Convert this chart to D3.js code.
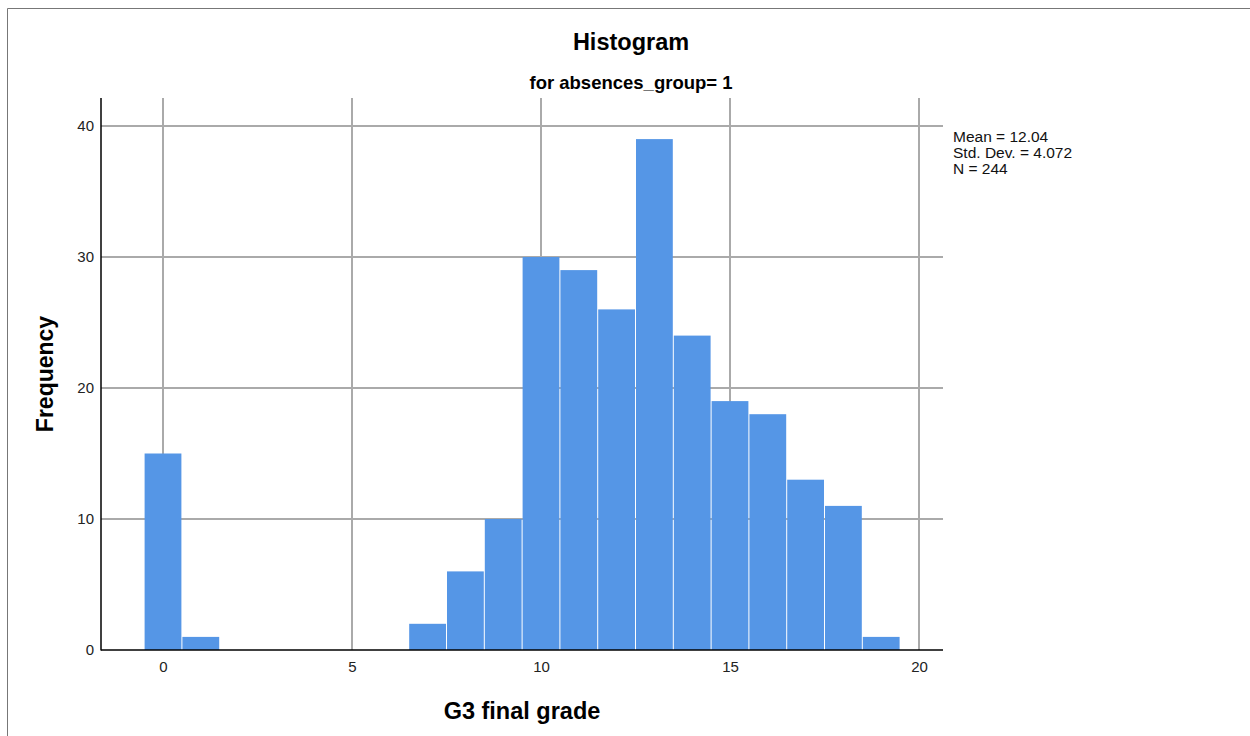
<!DOCTYPE html>
<html><head><meta charset="utf-8">
<script src="https://cdn.jsdelivr.net/npm/d3@7"></script>
<style>body{margin:0;background:#fff;font-family:"Liberation Sans",Arial,sans-serif;}</style>
</head><body>
<svg id="c" width="1250" height="736"></svg>
<script>
const grades = [0,1,7,8,9,10,11,12,13,14,15,16,17,18,19];
const freqs  = [15,1,2,6,10,30,29,26,39,24,19,18,13,11,1];
const xTicks = [0,5,10,15,20];
const yTicks = [0,10,20,30,40];
const statLines = ["Mean = 12.04","Std. Dev. = 4.072","N = 244"];

const svg = d3.select("#c");
const L=101,R=943,T=98,B=650;
const x = d3.scaleLinear().domain([0,20]).range([163,919]);
const y = d3.scaleLinear().domain([0,40]).range([B,126]);

// outer frame
svg.append("path").attr("d","M7.5,736 V8.5 H1250").attr("fill","none").attr("stroke","#777").attr("stroke-width",1);

// gridlines
const g = svg.append("g");
g.selectAll(".vg").data(xTicks).join("line")
  .attr("x1",d=>x(d)).attr("x2",d=>x(d)).attr("y1",T).attr("y2",B)
  .attr("stroke","#aaa").attr("stroke-width",2);
g.selectAll(".hg").data(yTicks.filter(d=>d>0)).join("line")
  .attr("x1",L).attr("x2",R).attr("y1",d=>y(d)).attr("y2",d=>y(d))
  .attr("stroke","#aaa").attr("stroke-width",2);

// bars
svg.append("g").selectAll("rect").data(grades).join("rect")
  .attr("x",(d)=>x(d-0.5)+0.5)
  .attr("width",(d)=>x(d+0.5)-x(d-0.5)-1)
  .attr("y",(d,i)=>y(freqs[i]))
  .attr("height",(d,i)=>B-y(freqs[i]))
  .attr("fill","#5596E6");

// axes
const xAxis = d3.axisBottom(x).tickValues(xTicks).tickSize(0).tickPadding(11);
const xa = svg.append("g").attr("transform",`translate(0,${B})`).call(xAxis);
xa.select(".domain").remove();
xa.selectAll("text").attr("font-size",15).attr("fill","#222").attr("font-family","Liberation Sans, Arial, sans-serif");
const yAxis = d3.axisLeft(y).tickValues(yTicks).tickSize(0).tickPadding(7);
const ya = svg.append("g").attr("transform",`translate(${L},0)`).call(yAxis);
ya.select(".domain").remove();
ya.selectAll("text").attr("font-size",15).attr("fill","#222").attr("font-family","Liberation Sans, Arial, sans-serif");

svg.append("line").attr("x1",L).attr("x2",L).attr("y1",T).attr("y2",B+0.5).attr("stroke","#000").attr("stroke-width",1.5);
svg.append("line").attr("x1",L).attr("x2",R).attr("y1",B).attr("y2",B).attr("stroke","#000").attr("stroke-width",1.5);

// titles
svg.append("text").attr("x",631).attr("y",50).attr("text-anchor","middle")
  .attr("font-size",23.5).attr("font-weight","bold").text("Histogram");
svg.append("text").attr("x",631).attr("y",89).attr("text-anchor","middle")
  .attr("font-size",18.5).attr("font-weight","bold").text("for absences_group= 1");
svg.append("text").attr("x",522).attr("y",719).attr("text-anchor","middle")
  .attr("font-size",23.5).attr("font-weight","bold").text("G3 final grade");
svg.append("text").attr("transform","translate(53,374) rotate(-90)").attr("text-anchor","middle")
  .attr("font-size",23).attr("font-weight","bold").text("Frequency");

// stats
svg.append("g").selectAll("text").data(statLines).join("text")
  .attr("x",953).attr("y",(d,i)=>142+i*16).attr("font-size",15.5).attr("fill","#111").text(d=>d);
</script>
</body></html>
